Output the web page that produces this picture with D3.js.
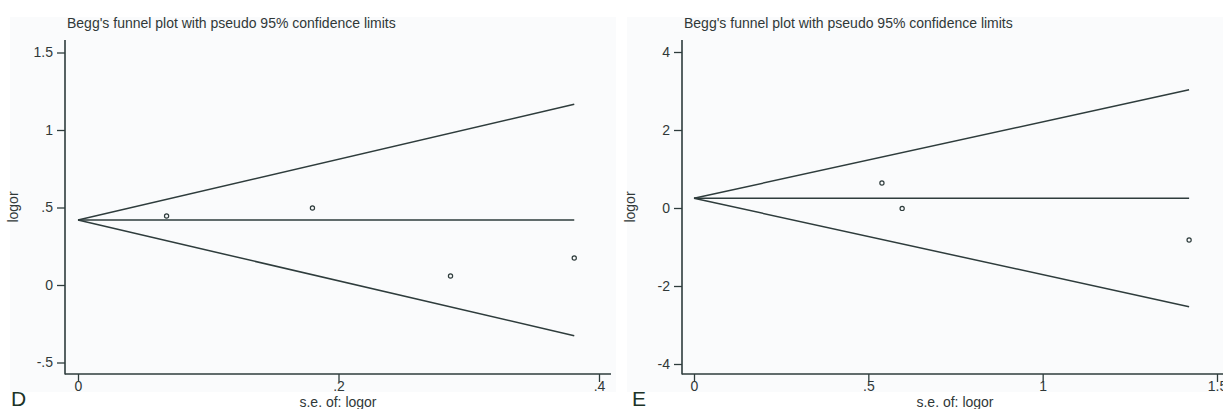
<!DOCTYPE html>
<html>
<head>
<meta charset="utf-8">
<script src="https://cdn.jsdelivr.net/npm/d3@7"></script>
<style>
  html, body { margin: 0; padding: 0; background: #ffffff; }
  svg { display: block; }
  text { font-family: "Liberation Sans", Arial, sans-serif; fill: #303838; }
</style>
</head>
<body>
<svg id="chart" width="1223" height="409"></svg>
<script>
// Panel D: study standard errors and log odds ratios
const seD = [0.068, 0.18, 0.286, 0.381];
const logorD = [0.445, 0.497, 0.058, 0.174];
const pooledD = 0.419;
const xTicksD = [0, 0.2, 0.4];
const yTicksD = [-0.5, 0, 0.5, 1, 1.5];

// Panel E
const seE = [0.539, 0.597, 1.42];
const logorE = [0.64, -0.01, -0.82];
const pooledE = 0.25;
const xTicksE = [0, 0.5, 1, 1.5];
const yTicksE = [-4, -2, 0, 2, 4];

const titleText = "Begg's funnel plot with pseudo 95% confidence limits";
const xTitle = "s.e. of: logor";
const yTitle = "logor";

const svg = d3.select("#chart");
const ink = "#2e3c3c";
const fontFam = "Liberation Sans, Arial, sans-serif";

// Stata-style number format: drop leading zero (.2, -.5)
const stataFmt = v => {
  const s = String(+v.toFixed(3));
  return s.replace(/^0\./, ".").replace(/^-0\./, "-.");
};

function panel(opts) {
  const { left, right, top, bottom, x, y, se, logor, pooled, xTicks, yTicks, letter, letterX } = opts;
  const g = svg.append("g");

  // faint plot background
  g.append("rect")
    .attr("x", left - 55).attr("y", 17)
    .attr("width", right - left + 60).attr("height", 392 - 17)
    .attr("fill", "#fafbfc");

  g.append("text")
    .attr("x", left + 2).attr("y", 28)
    .attr("font-size", 14)
    .text(titleText);

  // axes
  const yAxis = d3.axisLeft(y).tickValues(yTicks).tickSize(8).tickPadding(4).tickFormat(stataFmt);
  const gy = g.append("g").attr("transform", `translate(${left},0)`).call(yAxis);
  gy.select(".domain").remove();
  gy.selectAll("line").attr("stroke", ink).attr("stroke-width", 1.3);
  gy.selectAll("text").attr("font-size", 14).attr("fill", "#303838").attr("font-family", fontFam);

  const xAxis = d3.axisBottom(x).tickValues(xTicks).tickSize(8).tickFormat(stataFmt);
  const gx = g.append("g").attr("transform", `translate(0,${bottom})`).call(xAxis);
  gx.select(".domain").remove();
  gx.selectAll("line").attr("stroke", ink).attr("stroke-width", 1.3);
  gx.selectAll("text")
    .attr("y", 17).attr("dy", null)
    .attr("font-size", 14).attr("fill", "#303838").attr("font-family", fontFam);

  g.append("line").attr("x1", left).attr("x2", left).attr("y1", top).attr("y2", bottom + 0.5)
    .attr("stroke", ink).attr("stroke-width", 1.6);
  g.append("line").attr("x1", left).attr("x2", right).attr("y1", bottom).attr("y2", bottom)
    .attr("stroke", ink).attr("stroke-width", 1.6);

  // axis titles
  g.append("text")
    .attr("x", (left + right) / 2).attr("y", 407)
    .attr("text-anchor", "middle").attr("font-size", 14)
    .text(xTitle);
  g.append("text")
    .attr("transform", `translate(${left - 47},${(top + bottom) / 2}) rotate(-90)`)
    .attr("text-anchor", "middle").attr("font-size", 14)
    .text(yTitle);

  // pseudo 95% confidence limits and pooled estimate
  const seMax = d3.max(se);
  const lineGen = d3.line().x(d => x(d[0])).y(d => y(d[1]));
  const limits = [
    [[0, pooled], [seMax, pooled + 1.96 * seMax]],
    [[0, pooled], [seMax, pooled]],
    [[0, pooled], [seMax, pooled - 1.96 * seMax]]
  ];
  g.selectAll("path.limit").data(limits).enter().append("path")
    .attr("class", "limit")
    .attr("d", lineGen)
    .attr("fill", "none").attr("stroke", ink).attr("stroke-width", 1.5);

  // studies
  g.selectAll("circle.study").data(se.map((s, i) => [s, logor[i]])).enter().append("circle")
    .attr("class", "study")
    .attr("cx", d => x(d[0])).attr("cy", d => y(d[1]))
    .attr("r", 2.1)
    .attr("fill", "none").attr("stroke", ink).attr("stroke-width", 1.2);

  // panel letter
  g.append("text")
    .attr("x", letterX).attr("y", 406)
    .attr("font-size", 21).style("fill", "#1c3328")
    .text(letter);
}

panel({
  left: 65, right: 611, top: 40, bottom: 374,
  x: d3.scaleLinear().domain([0, 0.4]).range([78, 599]),
  y: d3.scaleLinear().domain([-0.5, 1.5]).range([362.5, 52.5]),
  se: seD, logor: logorD, pooled: pooledD,
  xTicks: xTicksD, yTicks: yTicksD, letter: "D", letterX: 11
});

panel({
  left: 682, right: 1228, top: 40, bottom: 374,
  x: d3.scaleLinear().domain([0, 1.5]).range([694, 1217]),
  y: d3.scaleLinear().domain([-4, 4]).range([364, 52]),
  se: seE, logor: logorE, pooled: pooledE,
  xTicks: xTicksE, yTicks: yTicksE, letter: "E", letterX: 632
});
</script>
</body>
</html>
